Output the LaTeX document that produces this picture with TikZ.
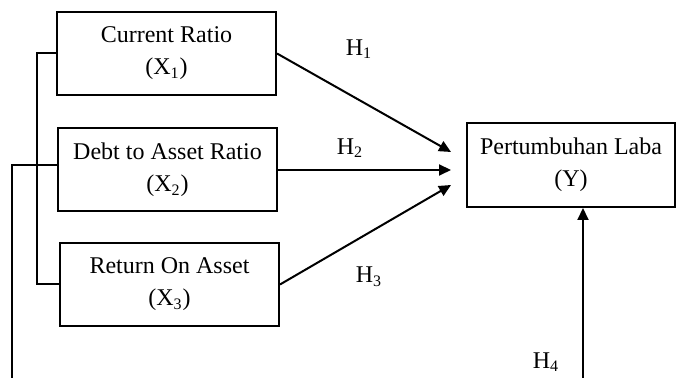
\documentclass[tikz,border=0pt]{standalone}
\usepackage{fontspec}
\setmainfont{Liberation Serif}
\usetikzlibrary{arrows.meta}

\tikzstyle{var} = [draw, line width=1pt, rectangle, align=center, minimum width=109.5pt, minimum height=41.5pt, inner sep=0pt, font=\fontsize{12}{16}\selectfont]

\begin{document}
\begin{tikzpicture}[x=0.5pt,y=-0.5pt,
		link/.style = {line width=1pt},
		hyp/.style = {line width=1pt, -{Triangle[length=6pt,width=5.5pt]}},
		lbl/.style = {font=\fontsize{12}{14}\selectfont, inner sep=0pt}]
		\useasboundingbox (0,0) rectangle (676,378);
		% independent variables
		\node (cr)[var] at (166.5,53.5) {Current Ratio\\(X\textsubscript{1})};
		\node (dar)[var] at (167.5,170) {Debt to Asset Ratio\\(X\textsubscript{2})};
		\node (roa)[var] at (169.5,284.5) {Return On Asset\\(X\textsubscript{3})};
		% dependent variable
		\node (pl)[var, minimum width=104pt, minimum height=42pt] at (571,165) {Pertumbuhan Laba\\(Y)};
		\coordinate (t1) at ([xshift=-7.5pt,yshift=6.5pt]pl.west);
		\coordinate (t2) at ([xshift=-7.5pt,yshift=-2.5pt]pl.west);
		\coordinate (t3) at ([xshift=-7.5pt,yshift=-10pt]pl.west);
		\coordinate (bl) at (12,378);
		\coordinate (br) at (583,378);
		\draw[hyp] (cr.east) -- (t1);
		\draw[hyp] (dar.east) -- (t2);
		\draw[hyp] (roa.east) -- (t3);
		\draw[hyp] (br) -- (br |- pl.south);
		% brackets on the left
		\draw[link] (cr.west) -- ++(-19,0) |- (roa.west);
		\draw[link] ([yshift=2.5pt]dar.west) -| (bl);
		% hypothesis labels
		\node (h1)[lbl] at (359,49) {H\textsubscript{1}};
		\node (h2)[lbl] at (350,148) {H\textsubscript{2}};
		\node (h3)[lbl] at (369,277) {H\textsubscript{3}};
		\node (h4)[lbl] at (546,362) {H\textsubscript{4}};
	\end{tikzpicture}
\end{document}
